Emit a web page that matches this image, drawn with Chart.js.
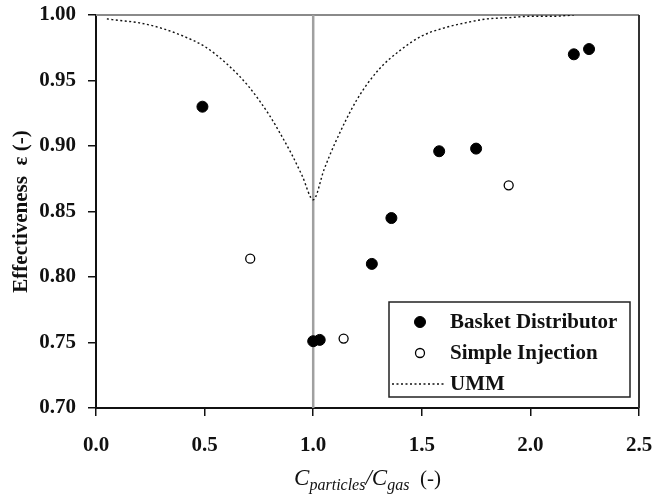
<!DOCTYPE html>
<html>
<head>
<meta charset="utf-8">
<script src="https://cdn.jsdelivr.net/npm/chart.js@4"></script>
<style>
  body { margin: 0; background: #fff; }
  canvas { display: block; }
</style>
</head>
<body>
<canvas id="effChart" width="653" height="495"></canvas>
<script>
// Basket Distributor (filled circles)
const basketX = [0.49, 1.00, 1.03, 1.27, 1.36, 1.58, 1.75, 2.20, 2.27];
const basketY = [0.930, 0.751, 0.752, 0.810, 0.845, 0.896, 0.898, 0.970, 0.974];

// Simple Injection (open circles)
const simpleX = [0.71, 1.14, 1.90];
const simpleY = [0.814, 0.753, 0.870];

// UMM model curve (dotted)
const ummX = [0.05, 0.10, 0.20, 0.30, 0.40, 0.50, 0.60, 0.70, 0.80, 0.85, 0.90, 0.95, 1.00,
              1.05, 1.10, 1.20, 1.30, 1.40, 1.50, 1.60, 1.70, 1.80, 1.90, 2.00, 2.10, 2.20];
const ummY = [0.997, 0.996, 0.994, 0.990, 0.984, 0.976, 0.963, 0.946, 0.923, 0.909, 0.894, 0.877, 0.859,
              0.882, 0.902, 0.935, 0.958, 0.973, 0.984, 0.990, 0.994, 0.997, 0.998, 0.999, 0.999, 1.000];

// grey marker line at C_particles/C_gas = 1
const refX = [1.0, 1.0];
const refY = [0.70, 1.00];

const xTicks = [0, 0.5, 1.0, 1.5, 2.0, 2.5];
const yTicks = [0.70, 0.75, 0.80, 0.85, 0.90, 0.95, 1.00];

const SERIF = '"Liberation Serif", "Times New Roman", serif';

function pts(xs, ys) {
    return xs.map((x, i) => ({ x: x, y: ys[i] }));
}

function noPad(s) {
    s.paddingTop = 0;
    s.paddingBottom = 0;
    s.paddingLeft = 0;
    s.paddingRight = 0;
}

// box frame: grey top, dark right
const framePlugin = {
    id: 'frame',
    beforeDatasetsDraw(chart) {
        const { ctx, chartArea: a } = chart;
        ctx.save();
        ctx.lineWidth = 2;
        ctx.strokeStyle = '#8a8a8a';
        ctx.beginPath();
        ctx.moveTo(a.left, a.top);
        ctx.lineTo(a.right, a.top);
        ctx.stroke();
        ctx.strokeStyle = '#333';
        ctx.beginPath();
        ctx.moveTo(a.right, a.top);
        ctx.lineTo(a.right, a.bottom);
        ctx.stroke();
        ctx.restore();
    }
};

// x title with subscripts, centred under the plot
const xTitlePlugin = {
    id: 'xTitle',
    afterDraw(chart) {
        const { ctx, chartArea: a } = chart;
        const parts = [
            { t: 'C', f: 'italic 23px ' + SERIF, dy: 0 },
            { t: 'particles', f: 'italic 16px ' + SERIF, dy: 5 },
            { t: '/', f: 'italic 23px ' + SERIF, dy: 0 },
            { t: 'C', f: 'italic 23px ' + SERIF, dy: 0 },
            { t: 'gas', f: 'italic 16px ' + SERIF, dy: 5 },
            { t: '  (-)', f: '21px ' + SERIF, dy: 0 }
        ];
        ctx.save();
        let total = 0;
        parts.forEach(p => { ctx.font = p.f; p.w = ctx.measureText(p.t).width; total += p.w; });
        let x = (a.left + a.right) / 2 - total / 2;
        const base = 485;
        ctx.fillStyle = '#111';
        ctx.textBaseline = 'alphabetic';
        parts.forEach(p => {
            ctx.font = p.f;
            ctx.fillText(p.t, x, base + p.dy);
            x += p.w;
        });
        ctx.restore();
    }
};

// boxed legend inside plot area
const boxLegendPlugin = {
    id: 'boxLegend',
    afterDraw(chart) {
        const { ctx, chartArea: a } = chart;
        const ds = chart.data.datasets;
        const right = a.right - 9, bottom = a.bottom - 11;
        const left = right - 241, top = bottom - 95;
        ctx.save();
        ctx.fillStyle = '#fff';
        ctx.fillRect(left, top, right - left, bottom - top);
        ctx.strokeStyle = '#222';
        ctx.lineWidth = 1.5;
        ctx.strokeRect(left, top, right - left, bottom - top);
        ctx.font = 'bold 21px ' + SERIF;
        ctx.textBaseline = 'middle';
        ctx.fillStyle = '#111';
        const rows = [top + 20, top + 51, top + 82];
        [0, 1, 2].forEach((k, i) => {
            const d = ds[k];
            const y = rows[i];
            const mx = left + 31;
            if (d.showLine) {
                ctx.strokeStyle = d.borderColor;
                ctx.lineWidth = d.borderWidth;
                ctx.setLineDash(d.borderDash);
                ctx.beginPath();
                ctx.moveTo(left + 3, y);
                ctx.lineTo(left + 55, y);
                ctx.stroke();
                ctx.setLineDash([]);
            } else {
                ctx.beginPath();
                ctx.arc(mx, y, d.pointRadius, 0, Math.PI * 2);
                ctx.fillStyle = d.pointBackgroundColor;
                ctx.fill();
                ctx.strokeStyle = d.pointBorderColor;
                ctx.lineWidth = d.pointBorderWidth;
                ctx.stroke();
            }
            ctx.fillStyle = '#111';
            ctx.fillText(d.label, left + 61, y + 1);
        });
        ctx.restore();
    }
};

new Chart(document.getElementById('effChart'), {
    type: 'scatter',
    data: {
        datasets: [
            {
                label: 'Basket Distributor',
                data: pts(basketX, basketY),
                pointRadius: 5.5,
                pointBackgroundColor: '#000',
                pointBorderColor: '#000',
                pointBorderWidth: 1
            },
            {
                label: 'Simple Injection',
                data: pts(simpleX, simpleY),
                pointRadius: 4.5,
                pointBackgroundColor: '#fff',
                pointBorderColor: '#000',
                pointBorderWidth: 1.3
            },
            {
                label: 'UMM',
                data: pts(ummX, ummY),
                showLine: true,
                borderColor: '#111',
                borderWidth: 1.4,
                borderDash: [2, 2.5],
                pointRadius: 0,
                cubicInterpolationMode: 'monotone'
            },
            {
                label: 'ref',
                data: pts(refX, refY),
                showLine: true,
                borderColor: '#a0a0a0',
                borderWidth: 2.5,
                pointRadius: 0
            }
        ]
    },
    options: {
        responsive: false,
        animation: false,
        devicePixelRatio: 1,
        layout: { padding: { top: 15, right: 14, left: 0, bottom: 0 } },
        plugins: {
            legend: { display: false },
            tooltip: { enabled: false }
        },
        scales: {
            x: {
                type: 'linear',
                min: 0,
                max: 2.5,
                afterBuildTicks: s => { s.ticks = xTicks.map(v => ({ value: v })); },
                afterFit: s => { s.height = 87; noPad(s); },
                ticks: {
                    callback: v => v.toFixed(1),
                    font: { family: SERIF, size: 21, weight: 'bold' },
                    color: '#111',
                    padding: 17
                },
                grid: { drawOnChartArea: false, tickLength: 8, color: '#111', lineWidth: 1.5 },
                border: { color: '#111', width: 2 }
            },
            y: {
                min: 0.70,
                max: 1.00,
                afterBuildTicks: s => { s.ticks = yTicks.map(v => ({ value: v })); },
                afterFit: s => { s.width = 96; noPad(s); },
                ticks: {
                    callback: v => v.toFixed(2),
                    font: { family: SERIF, size: 21, weight: 'bold' },
                    color: '#111',
                    padding: 12
                },
                grid: { drawOnChartArea: false, tickLength: 8, color: '#111', lineWidth: 1.5 },
                border: { color: '#111', width: 2 },
                title: {
                    display: true,
                    text: 'Effectiveness  \u03b5 (-)',
                    font: { family: SERIF, size: 21, weight: 'bold' },
                    color: '#111',
                    padding: { top: 9, bottom: 0 }
                }
            }
        }
    },
    plugins: [framePlugin, xTitlePlugin, boxLegendPlugin]
});
</script>
</body>
</html>
